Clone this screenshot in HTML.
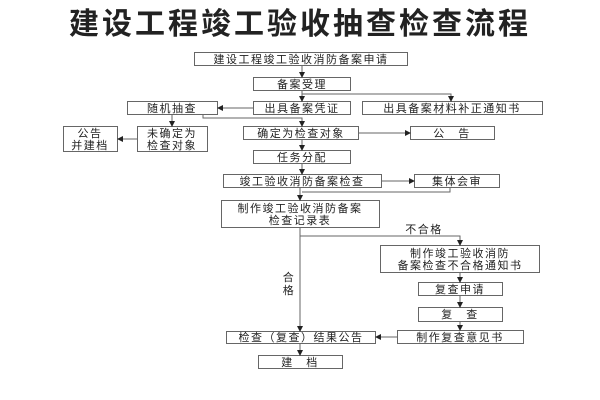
<!DOCTYPE html>
<html><head><meta charset="utf-8"><style>
html,body{margin:0;padding:0;background:#fff;}
svg{display:block;}
text{font-family:"Liberation Sans","Noto Sans CJK SC",sans-serif;fill:#222;}
</style></head><body>
<svg width="600" height="400" viewBox="0 0 600 400" xmlns="http://www.w3.org/2000/svg">
<defs><marker id="a" markerWidth="6" markerHeight="6" refX="5" refY="3" orient="auto" markerUnits="userSpaceOnUse"><path d="M0,0 L6,3 L0,6 z" fill="#222"/></marker></defs>
<text x="300" y="34" text-anchor="middle" font-size="30" font-weight="bold" letter-spacing="3" style="font-family:'Noto Sans CJK SC',sans-serif">建设工程竣工验收抽查检查流程</text>
<g fill="#fff" stroke="#666" stroke-width="1">
<rect x="194.5" y="52.5" width="213" height="13"/>
<rect x="253.5" y="77.5" width="97" height="13"/>
<rect x="253.5" y="101.5" width="97" height="13"/>
<rect x="362.5" y="101.5" width="180" height="13"/>
<rect x="127.5" y="101.5" width="90" height="13"/>
<rect x="63.5" y="126.5" width="54" height="25"/>
<rect x="137.5" y="126.5" width="70" height="25"/>
<rect x="243.5" y="126.5" width="115" height="13"/>
<rect x="410.5" y="126.5" width="84" height="13"/>
<rect x="253.5" y="150.5" width="97" height="13"/>
<rect x="223.5" y="174.5" width="158" height="13"/>
<rect x="414.5" y="174.5" width="85" height="13"/>
<rect x="221.5" y="200.5" width="158" height="27"/>
<rect x="380.5" y="245.5" width="159" height="27"/>
<rect x="418.5" y="282.5" width="84" height="13"/>
<rect x="418.5" y="307.5" width="84" height="14"/>
<rect x="397.5" y="330.5" width="126" height="13"/>
<rect x="226.5" y="331.5" width="149" height="12"/>
<rect x="258.5" y="355.5" width="84" height="13"/>
</g>
<g fill="none" stroke="#666" stroke-width="1">
<line x1="302" y1="66" x2="302" y2="77" marker-end="url(#a)"/>
<line x1="302" y1="91" x2="302" y2="101" marker-end="url(#a)"/>
<polyline points="302,94 451,94 451,101" marker-end="url(#a)"/>
<line x1="253" y1="108" x2="218" y2="108" marker-end="url(#a)"/>
<line x1="172" y1="115" x2="172" y2="126" marker-end="url(#a)"/>
<polyline points="203,115 203,118 302,118 302,126" marker-end="url(#a)"/>
<line x1="137" y1="139" x2="118" y2="139" marker-end="url(#a)"/>
<line x1="359" y1="133" x2="410" y2="133" marker-end="url(#a)"/>
<line x1="302" y1="140" x2="302" y2="150" marker-end="url(#a)"/>
<line x1="302" y1="164" x2="302" y2="174" marker-end="url(#a)"/>
<line x1="382" y1="181" x2="414" y2="181" marker-end="url(#a)"/>
<polyline points="450,188 450,192 302,192"/>
<line x1="300" y1="188" x2="300" y2="200" marker-end="url(#a)"/>
<line x1="300" y1="228" x2="300" y2="331" marker-end="url(#a)"/>
<polyline points="300,236 460,236 460,245" marker-end="url(#a)"/>
<line x1="460" y1="273" x2="460" y2="282" marker-end="url(#a)"/>
<line x1="460" y1="296" x2="460" y2="307" marker-end="url(#a)"/>
<line x1="460" y1="322" x2="460" y2="330" marker-end="url(#a)"/>
<line x1="397" y1="337" x2="376" y2="337" marker-end="url(#a)"/>
<line x1="300" y1="344" x2="300" y2="355" marker-end="url(#a)"/>
</g>
<g font-size="11" text-anchor="middle" letter-spacing="1.5">
<text x="301" y="63">建设工程竣工验收消防备案申请</text>
<text x="302" y="88">备案受理</text>
<text x="302" y="112">出具备案凭证</text>
<text x="452" y="112">出具备案材料补正通知书</text>
<text x="172" y="112">随机抽查</text>
<text x="90" y="137">公告</text>
<text x="90" y="149">并建档</text>
<text x="172" y="137">未确定为</text>
<text x="172" y="149">检查对象</text>
<text x="301" y="137">确定为检查对象</text>
<text x="452" y="137">公　告</text>
<text x="302" y="161">任务分配</text>
<text x="302" y="185">竣工验收消防备案检查</text>
<text x="457" y="185">集体会审</text>
<text x="300" y="212">制作竣工验收消防备案</text>
<text x="300" y="224">检查记录表</text>
<text x="424" y="233">不合格</text>
<text x="460" y="257">制作竣工验收消防</text>
<text x="460" y="269">备案检查不合格通知书</text>
<text x="460" y="293">复查申请</text>
<text x="460" y="318">复　查</text>
<text x="460" y="341">制作复查意见书</text>
<text x="301" y="341">检查（复查）结果公告</text>
<text x="300" y="366">建　档</text>
<text x="289" y="281">合</text>
<text x="289" y="294">格</text>
</g>
</svg>
</body></html>
